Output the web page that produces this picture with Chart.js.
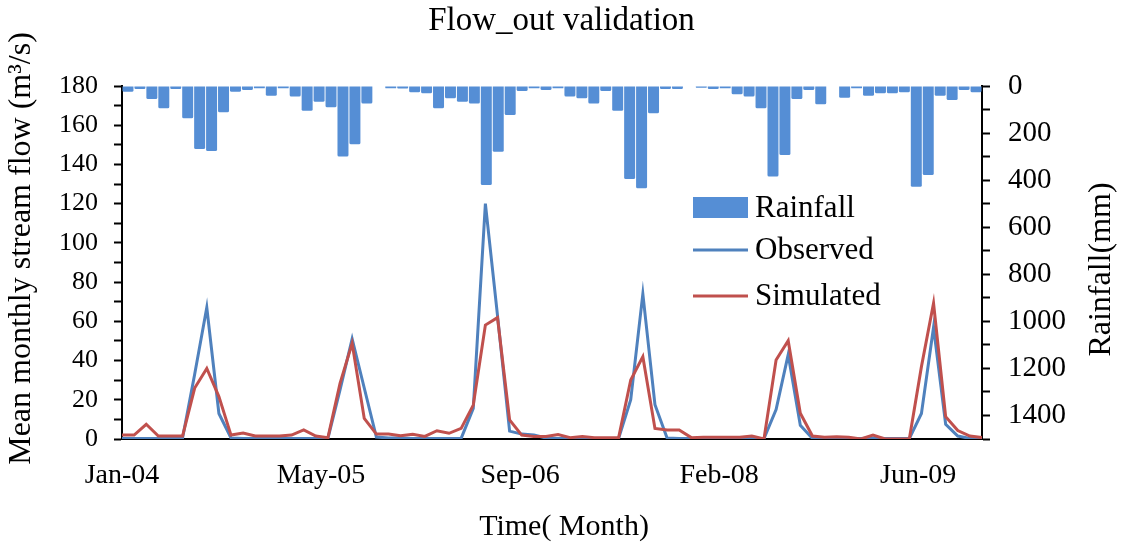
<!DOCTYPE html>
<html>
<head>
<meta charset="utf-8">
<script src="https://cdn.jsdelivr.net/npm/chart.js@4.4.1/dist/chart.umd.min.js"></script>
<style>
  html, body { margin: 0; padding: 0; background: #fff; }
  #wrap { width: 1123px; height: 549px; position: relative; }
</style>
</head>
<body>
<div id="wrap"><canvas id="c"></canvas></div>
<script>
// ---------- DATA ----------
const monthNames = ['Jan','Feb','Mar','Apr','May','Jun','Jul','Aug','Sep','Oct','Nov','Dec'];
const years = ['04','05','06','07','08','09'];
const categories = years.flatMap(y => monthNames.map(m => m + '-' + y));

// Monthly rainfall (mm), Jan-04 .. Dec-09
const rainfall = [
  24, 13, 55, 95, 13, 137, 268, 276, 112, 24, 17, 10,
  41, 10, 45, 105, 67, 90, 300, 248, 74, 0, 10, 11,
  27, 31, 95, 52, 67, 74, 421, 279, 123, 21, 10, 17,
  10, 45, 52, 74, 21, 105, 395, 435, 116, 13, 13, 0,
  7, 13, 10, 35, 45, 95, 385, 293, 55, 17, 78, 0,
  50, 10, 41, 31, 31, 27, 428, 378, 41, 60, 17, 27
];

// Observed mean monthly stream flow (m3/s)
const observed = [
  0.3, 0.3, 0.3, 0.3, 0.3, 0.5, 33, 67, 13, 0.5, 0.3, 0.3,
  0.3, 0.3, 0.3, 0.3, 0.3, 0.3, 25, 51, 26, 1, 0.5, 0.5,
  0.3, 0.3, 0.3, 0.3, 0.3, 15.6, 120, 63, 4, 2.5, 2, 0.5,
  0.3, 0.3, 0.3, 0.3, 0.3, 0.3, 20, 74, 17.5, 0.5, 0.3, 0.3,
  0.2, 0.2, 0.2, 0.2, 0.2, 0.2, 15, 43, 7, 0.3, 0.2, 0.2,
  0.2, 0.2, 0.5, 0.2, 0.2, 0.2, 13, 57, 7.5, 1.5, 0.3, 0.2
];

// Simulated mean monthly stream flow (m3/s)
const simulated = [
  2, 2, 7.5, 1.5, 1.5, 1.5, 26, 36, 21.6, 2, 3, 1.5,
  1.5, 1.5, 2, 4.6, 1.5, 0.7, 28.4, 48.8, 10.5, 2.5, 2.5, 1.7,
  2.4, 1.3, 4.2, 2.9, 5.4, 17.3, 58.1, 61.9, 9.7, 2, 1.3, 1.3,
  2.3, 0.7, 1.3, 0.7, 0.7, 0.7, 30.1, 42, 5.4, 4.6, 4.6, 0.7,
  0.9, 0.9, 0.9, 0.9, 1.5, 0, 40.3, 50.1, 13.1, 1.5, 0.9, 1.2,
  0.9, 0, 2, 0, 0, 0, 36.9, 69.2, 11.4, 4.3, 1.5, 0.7
];

// Date-axis tick labels (every 500 days from Jan-04) and their month positions
const tickLabels = ['Jan-04', 'May-05', 'Sep-06', 'Feb-08', 'Jun-09'];
const tickMonths = [0, 16.43, 32.87, 49.30, 65.73];

// ---------- STYLE ----------
const FONT = '"Liberation Serif", "Times New Roman", serif';
const BAR_COLOR = '#558ED5';
const OBS_COLOR = '#4F81BD';
const SIM_COLOR = '#C0504D';

const overlayPlugin = {
  id: 'overlay',
  afterDraw(chart) {
    const ctx = chart.ctx;
    const ca = chart.chartArea;
    const midY = (ca.top + ca.bottom) / 2;

    // Axis titles
    ctx.save();
    ctx.fillStyle = '#000';
    ctx.textAlign = 'center';
    ctx.textBaseline = 'middle';
    ctx.font = '32px ' + FONT;
    ctx.save();
    ctx.translate(22, midY - 14);
    ctx.rotate(-Math.PI / 2);
    ctx.fillText('Mean monthly stream flow (m³/s)', 0, 0);
    ctx.restore();

    ctx.save();
    ctx.translate(chart.scales.y2.right - 21, midY + 7);
    ctx.rotate(-Math.PI / 2);
    ctx.fillText('Rainfall(mm)', 0, 0);
    ctx.restore();

    ctx.font = '30px ' + FONT;
    ctx.fillText('Time( Month)', (ca.left + ca.right) / 2 + 12, 527);
    ctx.restore();

    // Legend inside plot area
    ctx.save();
    const lx = ca.left + 571, tx = ca.left + 633;
    const rows = [
      { label: chart.data.datasets[0].label, type: 'bar', color: BAR_COLOR, y: ca.top + 122 },
      { label: chart.data.datasets[1].label, type: 'line', color: OBS_COLOR, y: ca.top + 164 },
      { label: chart.data.datasets[2].label, type: 'line', color: SIM_COLOR, y: ca.top + 210 }
    ];
    ctx.font = '31px ' + FONT;
    ctx.textAlign = 'left';
    ctx.textBaseline = 'middle';
    rows.forEach(r => {
      if (r.type === 'bar') {
        ctx.fillStyle = r.color;
        ctx.fillRect(lx, r.y - 11, 55, 21);
      } else {
        ctx.strokeStyle = r.color;
        ctx.lineWidth = 3;
        ctx.beginPath();
        ctx.moveTo(lx, r.y);
        ctx.lineTo(lx + 55, r.y);
        ctx.stroke();
      }
      ctx.fillStyle = '#000';
      ctx.fillText(r.label, tx, r.y + 1);
    });
    ctx.restore();
  }
};

new Chart(document.getElementById('c'), {
  type: 'bar',
  data: {
    labels: categories,
    datasets: [
      {
        type: 'bar',
        label: 'Rainfall',
        data: rainfall,
        xAxisID: 'xb',
        yAxisID: 'y2',
        backgroundColor: BAR_COLOR,
        grouped: false,
        barPercentage: 1,
        categoryPercentage: 0.92,
        borderRadius: 1.5,
        order: 2
      },
      {
        type: 'line',
        label: 'Observed',
        data: observed.map((v, i) => ({ x: i, y: v })),
        xAxisID: 'x',
        yAxisID: 'y',
        borderColor: OBS_COLOR,
        backgroundColor: OBS_COLOR,
        borderWidth: 3,
        pointRadius: 0,
        tension: 0,
        order: 1
      },
      {
        type: 'line',
        label: 'Simulated',
        data: simulated.map((v, i) => ({ x: i, y: v })),
        xAxisID: 'x',
        yAxisID: 'y',
        borderColor: SIM_COLOR,
        backgroundColor: SIM_COLOR,
        borderWidth: 3,
        pointRadius: 0,
        tension: 0,
        order: 0
      }
    ]
  },
  options: {
    responsive: true,
    maintainAspectRatio: false,
    animation: false,
    devicePixelRatio: 1,
    layout: { padding: 0 },
    plugins: {
      legend: { display: false },
      tooltip: { enabled: false },
      title: {
        display: true,
        text: 'Flow_out validation',
        color: '#000',
        font: { family: FONT, size: 33, weight: 'normal' },
        padding: { top: 2, bottom: 44.4 }
      }
    },
    scales: {
      x: {
        type: 'linear',
        position: 'bottom',
        offset: false,
        min: 0,
        max: categories.length - 1,
        grid: { display: false, offset: false },
        border: { display: true, color: '#000', width: 2 },
        afterBuildTicks: (scale) => { scale.ticks = tickMonths.map(v => ({ value: v })); },
        ticks: {
          autoSkip: false,
          maxRotation: 0,
          padding: 12,
          color: '#000',
          font: { family: FONT, size: 28 },
          callback: (value, index) => tickLabels[index]
        },
        afterFit: (s) => { s.height = 110; }
      },
      xb: {
        type: 'category',
        axis: 'x',
        labels: categories,
        offset: true,
        display: false,
        stacked: false,
        grid: { display: false, offset: true }
      },
      y: {
        position: 'left',
        min: 0,
        max: 180,
        grid: { drawOnChartArea: false, drawTicks: true, tickLength: 8, tickColor: '#000', tickWidth: 2 },
        border: { display: true, color: '#000', width: 2 },
        ticks: {
          stepSize: 10,
          autoSkip: false,
          padding: 16,
          color: '#000',
          font: { family: FONT, size: 26 },
          callback: (v) => (v % 20 === 0 ? v : '')
        },
        afterFit: (s) => { s.width = 122; }
      },
      y2: {
        position: 'right',
        reverse: true,
        min: 0,
        max: 1500,
        grid: { drawOnChartArea: false, drawTicks: true, tickLength: 8, tickColor: '#000', tickWidth: 2 },
        border: { display: true, color: '#000', width: 2 },
        ticks: {
          stepSize: 100,
          autoSkip: false,
          padding: 18,
          color: '#000',
          font: { family: FONT, size: 29 },
          callback: (v) => (v % 200 === 0 ? v : '')
        },
        afterFit: (s) => { s.width = 141; }
      }
    }
  },
  plugins: [overlayPlugin]
});
</script>
</body>
</html>
